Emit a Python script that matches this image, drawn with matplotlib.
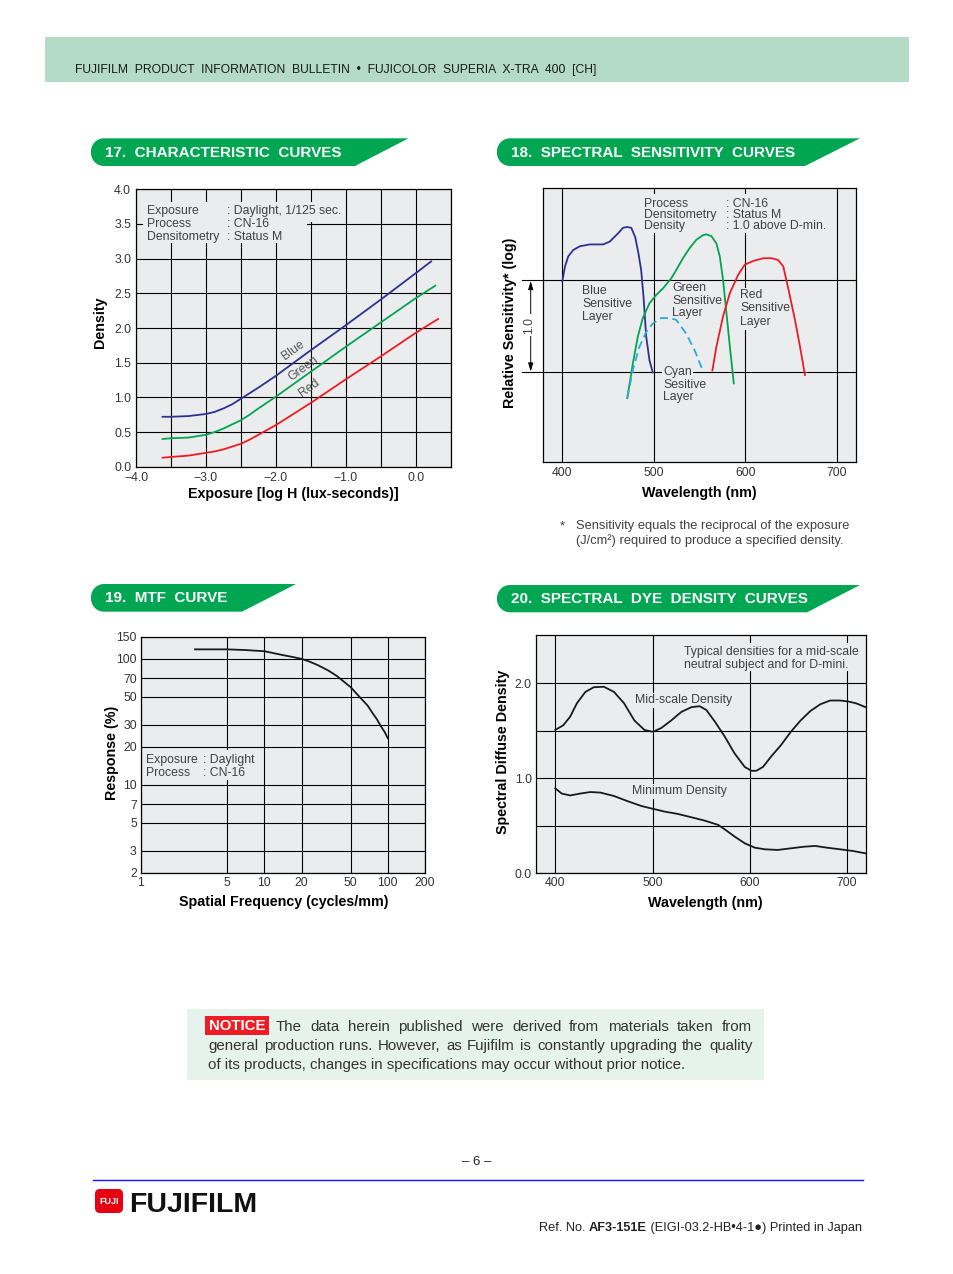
import matplotlib

matplotlib.use("Agg")
import matplotlib.pyplot as plt
import numpy as np
from matplotlib.lines import Line2D
from matplotlib.patches import FancyBboxPatch, Polygon, Rectangle
from matplotlib.ticker import NullLocator
from matplotlib.transforms import Affine2D

# ---------------------------------------------------------------- data
# 17. characteristic curves (log H -> density)
char_logh = [-3.62, -3.5, -3.25, -3.0, -2.875, -2.75, -2.625, -2.5, -2.375, -2.25,
             -2.0, -1.5, -1.0, -0.5, 0.0]
char_blue_dens = [0.72, 0.72, 0.73, 0.76, 0.79, 0.84, 0.90, 0.98, 1.06, 1.14,
                  1.31, 1.68, 2.04, 2.41, 2.79]
char_green_dens = [0.40, 0.41, 0.42, 0.46, 0.50, 0.55, 0.61, 0.67, 0.75, 0.84,
                   1.01, 1.37, 1.73, 2.08, 2.43]
char_red_dens = [0.13, 0.14, 0.16, 0.20, 0.22, 0.25, 0.29, 0.33, 0.39, 0.46,
                 0.60, 0.92, 1.26, 1.59, 1.93]
char_end_logh = [0.22, 0.28, 0.32]          # blue, green, red end points
char_end_dens = [2.96, 2.61, 2.13]
char_xticks = [-4.0, -3.5, -3.0, -2.5, -2.0, -1.5, -1.0, -0.5, 0.0, 0.5]
char_xlabels = ["\u22124.0", "", "\u22123.0", "", "\u22122.0", "", "\u22121.0", "", "0.0", ""]
char_yticks = [0.0, 0.5, 1.0, 1.5, 2.0, 2.5, 3.0, 3.5, 4.0]
char_ylabels = ["0.0", "0.5", "1.0", "1.5", "2.0", "2.5", "3.0", "3.5", "4.0"]

# 18. spectral sensitivity (nm -> relative log sensitivity)
sens_blue_nm = [400, 402.9, 406.5, 412, 419.2, 430.1, 444.6, 451.8, 460.9, 466.3, 471, 475.4,
                479.7, 483.3, 486.2, 488.8, 491.7, 495.3, 498.9]
sens_blue_val = [0.99, 1.15, 1.26, 1.33, 1.37, 1.39, 1.39, 1.42, 1.51, 1.57, 1.58, 1.57,
                 1.47, 1.29, 1.11, 0.82, 0.39, 0.13, 0.0]
sens_green_nm = [471, 473.6, 477.2, 482.6, 488, 495.3, 502.6, 509.9, 519, 524.5, 531.9, 539.2,
                 546.5, 553.8, 557.5, 563, 568.5, 572.2, 575.8, 579.5, 583.2, 587.5]
sens_green_val = [-0.28, -0.12, 0.10, 0.39, 0.59, 0.75, 0.84, 0.91, 1.02, 1.11, 1.24, 1.35,
                  1.44, 1.49, 1.50, 1.48, 1.40, 1.26, 1.00, 0.64, 0.28, -0.12]
sens_cyan_nm = [471, 477.2, 484.4, 491.7, 498.9, 508, 517.2, 524.5, 535.5, 544.7, 553.1]
sens_cyan_val = [-0.28, 0.03, 0.28, 0.44, 0.53, 0.59, 0.59, 0.57, 0.42, 0.24, 0.03]
sens_red_nm = [564.1, 568.5, 575.8, 583.2, 592.3, 599.6, 608.8, 619.7, 628.8, 636.1, 641.6,
               647.1, 654.4, 659.9, 665.3]
sens_red_val = [0.02, 0.28, 0.61, 0.86, 1.06, 1.17, 1.21, 1.24, 1.24, 1.22, 1.15,
                0.91, 0.57, 0.28, -0.03]
sens_xticks = [400, 500, 600, 700]

# 19. MTF
mtf_freq = [2.74, 5.0, 7.0, 10.0, 14.2, 16.7, 20.0, 23.3, 27.2, 33.0, 38.7, 43.9, 50.0,
            55.6, 62.4, 68.5, 75.3, 81.2, 88.1, 93.9, 100.0]
mtf_resp = [119, 119, 117.5, 115, 107, 103.8, 100, 94.9, 89, 80.7, 73, 66, 59.6,
            53.1, 47, 42.6, 37, 33.3, 29, 26.4, 23.4]
mtf_xticks = [1, 5, 10, 20, 50, 100, 200]
mtf_yticks = [2, 3, 5, 7, 10, 20, 30, 50, 70, 100, 150]

# 20. spectral dye density
dye_mid_nm = [400, 408.3, 415.3, 422.2, 430.9, 439.6, 450, 460.4, 470.8, 481.3, 491.7, 500.3,
              508.9, 519.2, 529.6, 539.9, 548.5, 555.3, 563.9, 574.2, 584.5, 594.8, 601.7,
              606.7, 613.5, 621.9, 632, 642.1, 652.2, 662.3, 672.4, 682.5, 692.6, 701,
              709.4, 718.9]
dye_mid_dens = [1.51, 1.56, 1.65, 1.79, 1.91, 1.96, 1.965, 1.91, 1.79, 1.61, 1.51, 1.49,
                1.53, 1.61, 1.70, 1.75, 1.76, 1.72, 1.60, 1.44, 1.26, 1.12, 1.08,
                1.08, 1.12, 1.23, 1.35, 1.49, 1.61, 1.71, 1.78, 1.82, 1.82, 1.81,
                1.79, 1.75]
dye_min_nm = [400, 406.6, 415.3, 425.7, 436.1, 446.5, 460.4, 474.3, 488.2, 500, 512.4, 526.1,
              539.9, 553.6, 567.4, 574.2, 584.5, 594.8, 605.1, 615.2, 628.6, 642.1, 655.6,
              667.3, 679.1, 692.6, 706.1, 718.9]
dye_min_dens = [0.895, 0.84, 0.82, 0.84, 0.856, 0.85, 0.814, 0.76, 0.71, 0.68, 0.65, 0.625,
                0.59, 0.555, 0.51, 0.463, 0.386, 0.316, 0.27, 0.253, 0.246, 0.263, 0.28,
                0.288, 0.27, 0.253, 0.235, 0.21]
dye_xticks = [400, 500, 600, 700]
dye_yticks = [0.0, 0.5, 1.0, 1.5, 2.0]
dye_ylabels = ["0.0", "", "1.0", "", "2.0"]

# ---------------------------------------------------------------- styling
W, H, DPI = 954, 1274, 100
GREEN = "#00a651"
PANEL = "#ebeced"
NOTE = "#404040"
TICK = "#333333"
C_BLUE, C_GREEN, C_RED, C_CYAN = "#2e3192", "#00a651", "#ed1c24", "#29abe2"

plt.rcParams["font.family"] = ["Liberation Sans", "DejaVu Sans"]

fig = plt.figure(figsize=(W / DPI, H / DPI), dpi=DPI)
fig.patch.set_facecolor("white")
# page coordinates: pixels from top-left corner
PAGE = Affine2D().scale(1.0 / DPI, -1.0 / DPI).translate(0, H / DPI) + fig.dpi_scale_trans


def add_ax(x0, y0, x1, y1):
    ax = fig.add_axes([x0 / W, 1 - y1 / H, (x1 - x0) / W, (y1 - y0) / H])
    ax.set_facecolor(PANEL)
    for s in ax.spines.values():
        s.set_linewidth(0.9)
        s.set_color("black")
    ax.tick_params(length=0, labelsize=8.8, labelcolor=TICK, pad=3.5)
    ax.set_axisbelow(True)
    ax.grid(True, color="black", linewidth=0.8)
    return ax


def page_text(x, y, s, size=8.8, color=NOTE, **kw):
    return fig.text(x, y, s, transform=PAGE, fontsize=size, color=color, **kw)


def rows(ax, x, y, dy, lines, size=8.8, bbox=None):
    for i, s in enumerate(lines):
        ax.text(x, round(y + i * dy) + 0.2, s, transform=PAGE, fontsize=size, color=NOTE,
                va="baseline", ha="left", bbox=bbox, zorder=3)


def cover(ax, x0, y0, x1, y1):
    ax.add_patch(Rectangle((x0, y0), x1 - x0, y1 - y0, transform=PAGE,
                           facecolor=PANEL, edgecolor="none", zorder=1))


def banner(x0, y0, x1, x2, y1, text, r=13):
    t = np.linspace(0, np.pi / 2, 12)
    bl = [(x0 + r - r * np.sin(a), y1 - r + r * np.cos(a)) for a in t]
    tl = [(x0 + r - r * np.cos(a), y0 + r - r * np.sin(a)) for a in t]
    pts = [(x1, y0), (x2, y1)] + bl + tl
    fig.add_artist(Polygon(pts, closed=True, transform=PAGE, facecolor=GREEN, edgecolor="none"))
    page_text(x0 + 14, (y0 + y1) / 2 + 0.5, text, size=11, color="white",
              fontweight="bold", va="center", ha="left")


# ---------------------------------------------------------------- header
fig.add_artist(Rectangle((45, 37), 864, 45, transform=PAGE, facecolor="#b3dbc6", edgecolor="none"))
page_text(75, 73.2, "FUJIFILM  PRODUCT  INFORMATION  BULLETIN  \u2022  FUJICOLOR  SUPERIA  X-TRA  400  [CH]",
          size=8.75, color="#1a1a1a", va="baseline")

banner(91, 138.3, 408.5, 355, 166, "17.  CHARACTERISTIC  CURVES")
banner(497, 138.3, 860, 805, 166, "18.  SPECTRAL  SENSITIVITY  CURVES")
banner(91, 584, 296, 242, 611.7, "19.  MTF  CURVE")
banner(497, 585, 860, 807, 612.3, "20.  SPECTRAL  DYE  DENSITY  CURVES")

# ---------------------------------------------------------------- 17
ax1 = add_ax(136, 189.3, 450.7, 466.7)
ax1.set_xlim(-4, 0.5)
ax1.set_ylim(0, 4)
ax1.set_xticks(char_xticks, char_xlabels)
ax1.set_yticks(char_yticks, char_ylabels)
for dens, xe, ye, col in zip([char_blue_dens, char_green_dens, char_red_dens],
                             char_end_logh, char_end_dens, [C_BLUE, C_GREEN, C_RED]):
    ax1.plot(char_logh + [xe], dens + [ye], color=col, lw=1.3, zorder=4)
for s, x, y in [("Blue", -1.75, 1.68), ("Green", -1.60, 1.41), ("Red", -1.52, 1.14)]:
    ax1.text(x, y, s, rotation=36, ha="center", va="center", rotation_mode="anchor",
             fontsize=8.8, color="#555555")
cover(ax1, 143, 202, 343, 221.5)
cover(ax1, 143, 202, 307, 243)
rows(ax1, 146.5, 214, 13, ["Exposure", "Process", "Densitometry"])
rows(ax1, 227, 214, 13, [": Daylight, 1/125 sec.", ": CN-16", ": Status M"])
page_text(100, 322, "Density", size=10.3, color="black", fontweight="bold",
          rotation=90, ha="center", va="center")
page_text(293, 494, "Exposure [log H (lux-seconds)]", size=10.3, color="black",
          fontweight="bold", ha="center", va="center")

# ---------------------------------------------------------------- 18
ax2 = add_ax(543.3, 188.3, 855.7, 462.3)
ax2.set_xlim(379.2, 720.8)
ax2.set_ylim(-0.978, 2.0)
ax2.set_xticks(sens_xticks)
ax2.set_yticks([0, 1], ["", ""])
ax2.plot(sens_blue_nm, sens_blue_val, color=C_BLUE, lw=1.3, zorder=4)
ax2.plot(sens_green_nm, sens_green_val, color=C_GREEN, lw=1.3, zorder=4)
ax2.plot(sens_cyan_nm, sens_cyan_val, color=C_CYAN, lw=1.3, dashes=(4.5, 2.5), zorder=4)
ax2.plot(sens_red_nm, sens_red_val, color=C_RED, lw=1.3, zorder=4)
cover(ax2, 641.7, 194, 828, 233)
rows(ax2, 644, 207, 11, ["Process", "Densitometry", "Density"])
rows(ax2, 725.5, 207, 11, [": CN-16", ": Status M", ": 1.0 above D-min."])
lab = dict(facecolor=PANEL, edgecolor="none", pad=1.0)
rows(ax2, 582, 294, 13.2, ["Blue", "Sensitive", "Layer"], bbox=lab)
rows(ax2, 672.3, 291, 12.6, ["Green", "Sensitive", "Layer"], bbox=lab)
rows(ax2, 740, 298, 13.3, ["Red", "Sensitive", "Layer"], bbox=lab)
rows(ax2, 663.3, 375, 12.7, ["Cyan", "Sesitive", "Layer"], bbox=lab)
for y in (280.3, 372.3):
    fig.add_artist(Line2D([522, 543.3], [y, y], transform=PAGE, color="black", lw=0.8))
ax2.annotate("", xy=(530.7, 371.5), xytext=(530.7, 281), xycoords=PAGE, textcoords=PAGE,
             arrowprops=dict(arrowstyle="<|-|>,head_length=0.5,head_width=0.15",
                             color="black", lw=0.7, shrinkA=0, shrinkB=0),
             annotation_clip=False)
page_text(529.5, 325, "1.0", size=8.8, color=NOTE, rotation=90, ha="center", va="center",
          bbox=dict(facecolor="white", edgecolor="none", pad=2.0))
page_text(510, 323, "Relative Sensitivity* (log)", size=10.3, color="black",
          fontweight="bold", rotation=90, ha="center", va="center")
page_text(699, 493, "Wavelength (nm)", size=10.3, color="black", fontweight="bold",
          ha="center", va="center")
page_text(560, 529.2, "*", size=9.25, color=NOTE, va="baseline")
page_text(576, 529.2, "Sensitivity equals the reciprocal of the exposure", size=9.25,
          color=NOTE, va="baseline")
page_text(576, 544.2, "(J/cm\u00b2) required to produce a specified density.", size=9.25,
          color=NOTE, va="baseline")

# ---------------------------------------------------------------- 19
ax3 = add_ax(141, 636.7, 425, 872.7)
ax3.set_xscale("log")
ax3.set_yscale("log")
ax3.set_xlim(1, 200)
ax3.set_ylim(2, 150)
ax3.set_xticks(mtf_xticks, [str(v) for v in mtf_xticks])
ax3.set_yticks(mtf_yticks, [str(v) for v in mtf_yticks])
ax3.xaxis.set_minor_locator(NullLocator())
ax3.yaxis.set_minor_locator(NullLocator())
ax3.tick_params(pad=3)
ax3.plot(mtf_freq, mtf_resp, color="#1a1a1a", lw=1.3, zorder=4)
cover(ax3, 144, 750, 257, 780)
rows(ax3, 146, 763, 12.7, ["Exposure", "Process"])
rows(ax3, 203, 763, 12.7, [": Daylight", ": CN-16"])
page_text(112, 753, "Response (%)", size=10.3, color="black", fontweight="bold",
          rotation=90, ha="center", va="center")
page_text(284, 902, "Spatial Frequency (cycles/mm)", size=10.3, color="black",
          fontweight="bold", ha="center", va="center")

# ---------------------------------------------------------------- 20
ax4 = add_ax(536, 635, 866, 873.3)
ax4.set_xlim(380.2, 719.4)
ax4.set_ylim(0, 2.51)
ax4.set_xticks(dye_xticks)
ax4.set_yticks(dye_yticks, dye_ylabels)
ax4.tick_params(pad=3)
ax4.plot(dye_mid_nm, dye_mid_dens, color="#1a1a1a", lw=1.3, zorder=4)
ax4.plot(dye_min_nm, dye_min_dens, color="#1a1a1a", lw=1.3, zorder=4)
cover(ax4, 680, 643, 866, 671)
rows(ax4, 683.5, 655, 12.8, ["Typical densities for a mid-scale",
                             "neutral subject and for D-mini."])
rows(ax4, 635, 703, 0, ["Mid-scale Density"], bbox=lab)
rows(ax4, 632, 794, 0, ["Minimum Density"], bbox=lab)
page_text(503, 752, "Spectral Diffuse Density", size=10.3, color="black",
          fontweight="bold", rotation=90, ha="center", va="center")
page_text(705, 903, "Wavelength (nm)", size=10.3, color="black", fontweight="bold",
          ha="center", va="center")

# ---------------------------------------------------------------- notice
renderer = fig.canvas.get_renderer()


def width_of(s, size, weight="normal"):
    t = fig.text(0, 0, s, fontsize=size, fontweight=weight, transform=PAGE)
    w = t.get_window_extent(renderer).width
    t.remove()
    return w


def justify(line, x0, x1, y, size):
    words = line.split()
    widths = [width_of(w, size) for w in words]
    gap = (x1 - x0 - sum(widths)) / (len(words) - 1)
    x = x0
    for w, wd in zip(words, widths):
        page_text(round(x), y, w, size=size, color="#333333", va="baseline")
        x += wd + gap


fig.add_artist(Rectangle((187, 1009), 577, 71, transform=PAGE, facecolor="#e6f2ec", edgecolor="none"))
fig.add_artist(Rectangle((205, 1016), 64, 19, transform=PAGE, facecolor="#ee1c25", edgecolor="none"))
page_text(237, 1026, "NOTICE", size=10.8, color="white", fontweight="bold",
          ha="center", va="center")
NS = 10.8
justify("The data herein published were derived from materials taken from", 276, 752, 1031.2, NS)
justify("general production runs.  However, as Fujifilm is constantly upgrading the quality",
        208, 752, 1050.2, NS)
page_text(208, 1069.2, "of its products, changes in specifications may occur without prior notice.",
          size=NS, color="#333333", va="baseline")

# ---------------------------------------------------------------- footer
page_text(477, 1162, "\u2013 6 \u2013", size=9.5, color="#222222", ha="center", va="center")
fig.add_artist(Line2D([93, 863], [1180, 1180], transform=PAGE, color="#1414ff", lw=1.0))
fig.add_artist(FancyBboxPatch((95, 1189), 28, 24, boxstyle="round,pad=0,rounding_size=5",
                              transform=PAGE, facecolor="#e60012", edgecolor="none"))
page_text(109, 1201.5, "FUJI", size=6.5, color="white", fontweight="bold", ha="center", va="center")
page_text(129, 1212.2, "FUJIFILM", size=20.5, color="#111111", fontweight="bold", va="baseline")

ref_parts = [("Ref. No. ", "normal"), ("AF3-151E", "bold"),
             (" (EIGI-03.2-HB\u20224-1\u25cf) Printed in Japan", "normal")]
RS = 9.2
total = sum(width_of(s, RS, w) for s, w in ref_parts)
x = 862 - total
for s, w in ref_parts:
    page_text(x, 1231.2, s, size=RS, color="#222222", fontweight=w, va="baseline")
    x += width_of(s, RS, w)

fig.savefig("out.png", dpi=DPI)
